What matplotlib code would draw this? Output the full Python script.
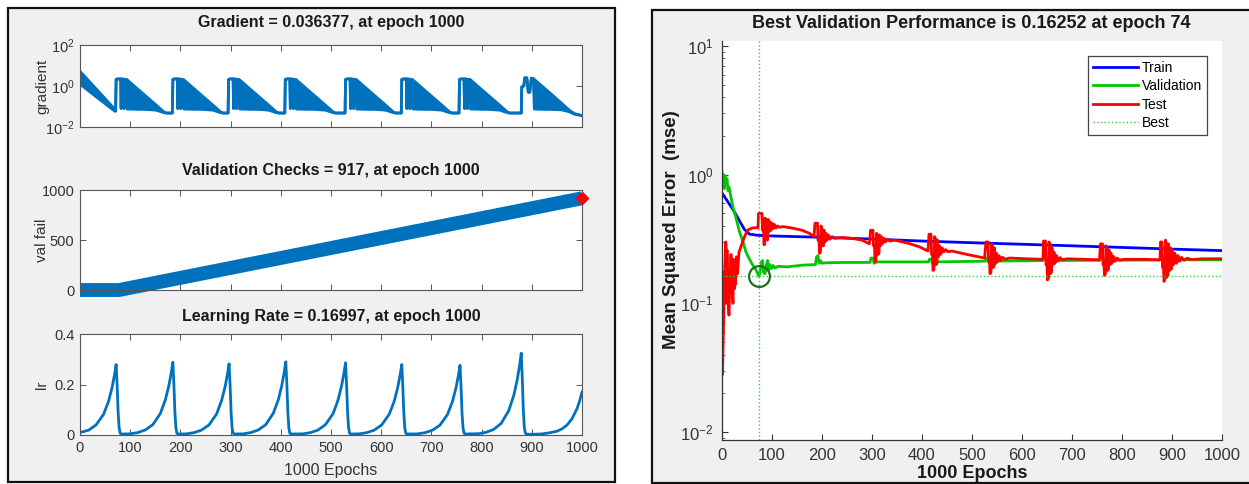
import matplotlib
matplotlib.use('Agg')
import matplotlib.pyplot as plt
from matplotlib.patches import Rectangle
import numpy as np

plt.rcParams['font.family'] = ['Liberation Sans', 'DejaVu Sans']
plt.rcParams['mathtext.fontset'] = 'custom'
plt.rcParams['mathtext.rm'] = 'Liberation Sans'
plt.rcParams['mathtext.it'] = 'Liberation Sans:italic'
plt.rcParams['mathtext.bf'] = 'Liberation Sans:bold'

# ---------------- data: left panel ----------------
epoch_ticks = [0, 100, 200, 300, 400, 500, 600, 700, 800, 900, 1000]

# gradient: where top == bottom it is a single line, otherwise a dense oscillation band
grad_epoch = [0, 15, 30, 45, 60, 70, 71,
              72, 75, 81, 82, 83, 87, 88, 89, 92, 94, 112, 132, 152, 167, 172, 184,
              185, 188, 194, 195, 196, 200, 201, 202, 205, 207, 225, 245, 265, 280, 285, 295,
              296, 299, 305, 306, 307, 311, 312, 313, 316, 318, 336, 356, 376, 391, 396, 408,
              409, 412, 418, 419, 420, 424, 425, 426, 429, 431, 449, 469, 489, 504, 509, 528,
              529, 532, 538, 539, 540, 544, 545, 546, 549, 551, 569, 589, 609, 624, 629, 640,
              641, 644, 650, 651, 652, 656, 657, 658, 661, 663, 681, 701, 721, 736, 741, 755,
              756, 759, 765, 766, 767, 771, 772, 773, 776, 778, 796, 816, 836, 851, 856, 879,
              880, 884, 886, 890, 893, 896, 899, 903, 905, 920, 940, 960, 975, 985, 1000]
grad_top = [5.2, 2.08, 0.82, 0.33, 0.13, 0.07, 0.06,
            2.1, 2.2, 2.2, 0.08, 2.2, 2.15, 0.08, 2.1, 2.1, 2.0, 0.82, 0.31, 0.116, 0.055, 0.048, 0.048,
            2.1, 2.2, 2.2, 0.08, 2.2, 2.15, 0.08, 2.1, 2.1, 2.0, 0.82, 0.31, 0.116, 0.055, 0.048, 0.048,
            2.1, 2.2, 2.2, 0.08, 2.2, 2.15, 0.08, 2.1, 2.1, 2.0, 0.82, 0.31, 0.116, 0.055, 0.048, 0.048,
            2.1, 2.2, 2.2, 0.08, 2.2, 2.15, 0.08, 2.1, 2.1, 2.0, 0.82, 0.31, 0.116, 0.055, 0.048, 0.048,
            2.1, 2.2, 2.2, 0.08, 2.2, 2.15, 0.08, 2.1, 2.1, 2.0, 0.82, 0.31, 0.116, 0.055, 0.048, 0.048,
            2.1, 2.2, 2.2, 0.08, 2.2, 2.15, 0.08, 2.1, 2.1, 2.0, 0.82, 0.31, 0.116, 0.055, 0.048, 0.048,
            2.1, 2.2, 2.2, 0.08, 2.2, 2.15, 0.08, 2.1, 2.1, 2.0, 0.82, 0.31, 0.116, 0.055, 0.048, 0.048,
            0.9, 1.0, 2.5, 2.5, 0.5, 0.5, 2.4, 2.3, 2.1, 1.0, 0.38, 0.14, 0.065, 0.045, 0.036]
grad_bot = [1.23, 0.64, 0.33, 0.17, 0.088, 0.058, 0.06,
            2.1, 2.2, 2.2, 0.08, 2.2, 2.15, 0.08, 2.1, 2.1, 0.075, 0.073, 0.072, 0.066, 0.05, 0.048, 0.048,
            2.1, 2.2, 2.2, 0.08, 2.2, 2.15, 0.08, 2.1, 2.1, 0.075, 0.073, 0.072, 0.066, 0.05, 0.048, 0.048,
            2.1, 2.2, 2.2, 0.08, 2.2, 2.15, 0.08, 2.1, 2.1, 0.075, 0.073, 0.072, 0.066, 0.05, 0.048, 0.048,
            2.1, 2.2, 2.2, 0.08, 2.2, 2.15, 0.08, 2.1, 2.1, 0.075, 0.073, 0.072, 0.066, 0.05, 0.048, 0.048,
            2.1, 2.2, 2.2, 0.08, 2.2, 2.15, 0.08, 2.1, 2.1, 0.075, 0.073, 0.072, 0.066, 0.05, 0.048, 0.048,
            2.1, 2.2, 2.2, 0.08, 2.2, 2.15, 0.08, 2.1, 2.1, 0.075, 0.073, 0.072, 0.066, 0.05, 0.048, 0.048,
            2.1, 2.2, 2.2, 0.08, 2.2, 2.15, 0.08, 2.1, 2.1, 0.075, 0.073, 0.072, 0.066, 0.05, 0.048, 0.048,
            0.9, 1.0, 2.5, 2.5, 0.5, 0.5, 2.4, 2.3, 0.075, 0.073, 0.072, 0.068, 0.055, 0.042, 0.036]

valfail_epoch = [0, 78, 1000]
valfail_value = [0, 0, 917]
valfail_last = 917

lr_epoch = [0, 17, 32, 47, 57, 64, 69, 72, 74, 76, 78, 80, 83,
            100, 115, 130, 145, 160, 170, 177, 182, 185, 187, 189, 191, 193, 196,
            212, 227, 242, 257, 272, 282, 289, 294, 297, 299, 301, 303, 305, 308,
            325, 340, 355, 370, 385, 395, 402, 407, 410, 412, 414, 416, 418, 421,
            444, 459, 474, 489, 504, 514, 521, 526, 529, 531, 533, 535, 537, 540,
            556, 571, 586, 601, 616, 626, 633, 638, 641, 643, 645, 647, 649, 652,
            672, 687, 702, 717, 732, 742, 749, 754, 757, 759, 761, 763, 765, 768,
            794, 809, 824, 839, 854, 864, 871, 876, 879, 881, 883, 885, 887, 890,
            905, 920, 935, 950, 960, 970, 980, 990, 995, 1000]
lr_value = [0.010, 0.019, 0.040, 0.082, 0.134, 0.189, 0.241, 0.279, 0.195, 0.089, 0.028, 0.007, 0.004,
            0.0046, 0.0095, 0.0197, 0.041, 0.085, 0.139, 0.195, 0.249, 0.288, 0.202, 0.092, 0.029, 0.007, 0.004,
            0.0045, 0.0093, 0.0193, 0.040, 0.083, 0.136, 0.191, 0.244, 0.282, 0.197, 0.090, 0.028, 0.007, 0.004,
            0.0046, 0.0095, 0.0198, 0.041, 0.086, 0.139, 0.196, 0.251, 0.290, 0.203, 0.093, 0.029, 0.007, 0.004,
            0.0045, 0.0094, 0.0195, 0.041, 0.084, 0.138, 0.194, 0.247, 0.286, 0.200, 0.092, 0.029, 0.007, 0.004,
            0.0044, 0.0092, 0.019, 0.040, 0.082, 0.134, 0.189, 0.241, 0.279, 0.195, 0.089, 0.028, 0.007, 0.004,
            0.0044, 0.0091, 0.0189, 0.039, 0.081, 0.133, 0.187, 0.238, 0.276, 0.193, 0.088, 0.028, 0.007, 0.004,
            0.0052, 0.0107, 0.022, 0.046, 0.096, 0.156, 0.219, 0.280, 0.324, 0.227, 0.104, 0.032, 0.008, 0.003,
            0.003, 0.0043, 0.0087, 0.0148, 0.024, 0.039, 0.064, 0.104, 0.133, 0.170]

# ---------------- data: right panel ----------------
train_epoch = [0, 10, 20, 28, 36, 45, 55, 71, 100, 200, 300, 400, 500, 600, 700, 800, 900, 1000]
train_mse = [0.72, 0.63, 0.55, 0.49, 0.43, 0.375, 0.345, 0.338, 0.334, 0.326, 0.316,
             0.305, 0.296, 0.288, 0.28, 0.272, 0.264, 0.257]

val_epoch = [0, 2, 3, 5, 7, 8, 10, 12, 14, 21, 28, 35, 42, 48, 55, 61, 68, 74,
             76, 79, 81, 83, 86, 89, 91, 93, 96, 99, 102, 106, 112, 130, 160, 185,
             187, 189, 192, 194, 197, 200, 210, 250, 296, 298, 302, 304, 310, 350, 413,
             415, 419, 421, 430, 500, 527, 529, 533, 535, 545, 600, 642, 644, 648, 650, 660,
             720, 756, 758, 762, 764, 775, 840, 876, 878, 882, 885, 895, 950, 1000]
val_mse = [1.06, 0.8, 1.0, 0.78, 0.98, 0.85, 0.93, 0.75, 0.8, 0.58, 0.46, 0.36, 0.3, 0.25, 0.22,
           0.2, 0.182, 0.1625,
           0.175, 0.21, 0.215, 0.175, 0.17, 0.2, 0.215, 0.18, 0.2, 0.186, 0.197, 0.188, 0.194,
           0.192, 0.198, 0.2,
           0.2, 0.23, 0.235, 0.205, 0.215, 0.205, 0.207, 0.208, 0.208, 0.225, 0.225,
           0.205, 0.21, 0.21, 0.21, 0.22, 0.22, 0.205, 0.21, 0.212, 0.213, 0.225, 0.225, 0.208,
           0.213, 0.214, 0.215, 0.228, 0.228, 0.21, 0.215, 0.216, 0.216, 0.228, 0.228, 0.212,
           0.216, 0.217, 0.217, 0.235, 0.232, 0.21, 0.218, 0.218, 0.218]

test_epoch = [0, 1, 4, 7, 8, 9, 10, 12, 14, 16, 18, 20, 22, 23, 25, 26, 27, 29, 31, 34, 40, 45,
              51, 60, 70, 72,
              73, 80, 81, 83, 84, 85, 86, 88, 89, 91, 92, 94, 96, 98, 100, 102, 105, 108, 111, 115,
              122, 140, 160, 175, 184,
              186, 191, 192, 194, 195, 197, 198, 200, 201, 203, 204, 206, 208, 210, 213, 216, 220,
              225, 240, 260, 280, 295,
              297, 302, 303, 305, 306, 308, 309, 311, 312, 314, 315, 317, 319, 321, 324, 327, 331,
              336, 345, 370, 395, 412,
              414, 418, 419, 421, 422, 424, 425, 427, 428, 430, 431, 433, 435, 437, 440, 443, 447,
              452, 460, 490, 525,
              528, 532, 533, 535, 536, 538, 539, 541, 542, 544, 545, 547, 549, 551, 554, 557, 561,
              566, 575, 610, 642,
              643, 647, 648, 650, 651, 653, 654, 656, 657, 659, 660, 662, 664, 666, 669, 672, 676,
              681, 690, 720, 755,
              757, 761, 762, 764, 765, 767, 768, 770, 771, 773, 774, 776, 778, 780, 783, 786, 790,
              795, 805, 840, 876,
              877, 880, 881, 883, 884, 886, 887, 889, 890, 892, 893, 895, 897, 899, 901, 903, 906,
              909, 912, 915, 919, 924, 930, 940, 960, 1000]
test_mse = [0.177, 0.028, 0.1, 0.3, 0.3, 0.1, 0.26, 0.11, 0.081, 0.16, 0.24, 0.14, 0.1, 0.22,
            0.13, 0.21, 0.14, 0.23, 0.17, 0.25, 0.29, 0.33, 0.37, 0.385, 0.388, 0.385,
            0.5, 0.5, 0.37, 0.37, 0.285, 0.29, 0.46, 0.44, 0.32, 0.31, 0.45, 0.36, 0.43, 0.37,
            0.42, 0.38, 0.41, 0.385, 0.4, 0.39, 0.395, 0.385, 0.37, 0.35, 0.33,
            0.42, 0.42, 0.31, 0.31, 0.245, 0.25, 0.4, 0.38, 0.28, 0.28, 0.37, 0.3, 0.35, 0.31,
            0.34, 0.315, 0.33, 0.32, 0.325, 0.32, 0.31, 0.29,
            0.37, 0.37, 0.28, 0.28, 0.21, 0.215, 0.35, 0.34, 0.24, 0.245, 0.34, 0.28, 0.33, 0.29,
            0.32, 0.3, 0.315, 0.305, 0.31, 0.295, 0.275, 0.255,
            0.345, 0.345, 0.24, 0.24, 0.18, 0.185, 0.33, 0.32, 0.2, 0.205, 0.31, 0.23, 0.28, 0.24,
            0.27, 0.25, 0.262, 0.252, 0.255, 0.24, 0.225,
            0.3, 0.3, 0.21, 0.21, 0.17, 0.175, 0.29, 0.28, 0.19, 0.195, 0.27, 0.205, 0.245, 0.21,
            0.235, 0.215, 0.228, 0.22, 0.225, 0.222, 0.22,
            0.305, 0.305, 0.2, 0.2, 0.152, 0.158, 0.3, 0.28, 0.17, 0.175, 0.27, 0.2, 0.25, 0.205,
            0.235, 0.213, 0.227, 0.218, 0.222, 0.22, 0.218,
            0.29, 0.29, 0.2, 0.2, 0.165, 0.17, 0.28, 0.27, 0.18, 0.185, 0.26, 0.2, 0.245, 0.205,
            0.232, 0.212, 0.225, 0.217, 0.22, 0.22, 0.218,
            0.3, 0.3, 0.19, 0.19, 0.148, 0.155, 0.31, 0.29, 0.16, 0.165, 0.29, 0.18, 0.27, 0.185,
            0.26, 0.2, 0.245, 0.205, 0.235, 0.212, 0.228, 0.216, 0.224, 0.219, 0.222, 0.222]

best_epoch = 74
best_perf = 0.16252

# ---------------- layout ----------------
W, H = 1249, 484
fig = plt.figure(figsize=(W / 100, H / 100), dpi=100)
fig.patch.set_facecolor('white')


def rect(l, t, r, b):
    return [l / W, 1 - b / H, (r - l) / W, (b - t) / H]


fig.add_artist(Rectangle((8 / W, 1 - 482 / H), 607 / W, 474 / H, transform=fig.transFigure,
                         facecolor='#f0f0f0', edgecolor='#111111', lw=1.6, zorder=0))
fig.add_artist(Rectangle((652 / W, 1 - 483 / H), 610 / W, 473 / H, transform=fig.transFigure,
                         facecolor='#f0f0f0', edgecolor='#111111', lw=1.6, zorder=0))

MBLUE = '#0072BD'
TICKC = '#333333'
TITLEC = '#1a1a1a'


def style_left(ax, show_x):
    ax.set_facecolor('white')
    for s in ax.spines.values():
        s.set_color('#555555')
        s.set_linewidth(0.8)
    ax.set_xlim(0, 1000)
    ax.set_xticks(epoch_ticks)
    ax.tick_params(which='major', direction='in', length=4, width=0.7, top=True, right=True,
                   colors='#555555', labelcolor=TICKC, labelsize=10.5, labelbottom=show_x, pad=4)
    ax.tick_params(which='minor', direction='in', length=2, width=0.5, top=False, right=True,
                   colors='#777777')


# gradient
ax1 = fig.add_axes(rect(80, 45, 582, 127))
ax1.set_yscale('log')
ax1.fill_between(grad_epoch, grad_bot, grad_top, color=MBLUE, lw=0)
ax1.plot(grad_epoch, grad_top, color=MBLUE, lw=2)
ax1.plot(grad_epoch, grad_bot, color=MBLUE, lw=2)
ax1.set_ylim(1e-2, 1e2)
ax1.set_yticks([1e-2, 1e0, 1e2])
ax1.set_yticklabels([r'$\mathregular{10^{-2}}$', r'$\mathregular{10^{0}}$', r'$\mathregular{10^{2}}$'])
style_left(ax1, False)
ax1.xaxis.set_minor_locator(matplotlib.ticker.NullLocator())

# validation checks
ax2 = fig.add_axes(rect(80, 190, 582, 290))
ax2.plot(valfail_epoch, valfail_value, color=MBLUE, lw=10, solid_capstyle='butt', clip_on=False)
ax2.plot([valfail_epoch[-1]], [valfail_last], marker='D', ms=6, color='#ff0000', ls='none',
         clip_on=False, zorder=5)
ax2.set_ylim(0, 1000)
ax2.set_yticks([0, 500, 1000])
style_left(ax2, False)

# learning rate
ax3 = fig.add_axes(rect(80, 334, 582, 435))
ax3.plot(lr_epoch, lr_value, color=MBLUE, lw=2)
ax3.set_ylim(0, 0.4)
ax3.set_yticks([0, 0.2, 0.4])
ax3.set_yticklabels(['0', '0.2', '0.4'])
style_left(ax3, True)

fig.text(331 / W, 1 - 22 / H, 'Gradient = 0.036377, at epoch 1000', ha='center', va='center',
         fontsize=11.5, fontweight='bold', color=TITLEC)
fig.text(331 / W, 1 - 171 / H, 'Validation Checks = 917, at epoch 1000', ha='center', va='center',
         fontsize=11.5, fontweight='bold', color=TITLEC)
fig.text(331 / W, 1 - 317 / H, 'Learning Rate = 0.16997, at epoch 1000', ha='center', va='center',
         fontsize=11.5, fontweight='bold', color=TITLEC)
fig.text(42 / W, 1 - 86 / H, 'gradient', rotation=90, ha='center', va='center', fontsize=11, color=TICKC)
fig.text(42 / W, 1 - 240 / H, 'val fail', rotation=90, ha='center', va='center', fontsize=11, color=TICKC)
fig.text(42 / W, 1 - 385 / H, 'lr', rotation=90, ha='center', va='center', fontsize=11, color=TICKC)
fig.text(331 / W, 1 - 471 / H, '1000 Epochs', ha='center', va='center', fontsize=11.5, color=TICKC)

# ---------------- right panel ----------------
axR = fig.add_axes(rect(722, 41, 1222, 440))
axR.set_facecolor('white')
axR.set_yscale('log')
axR.plot(train_epoch, train_mse, color='#0000ff', lw=2, label='Train')
axR.plot(val_epoch, val_mse, color='#00c800', lw=2, label='Validation')
axR.plot(test_epoch, test_mse, color='#ff0000', lw=2, label='Test')
axR.axvline(best_epoch, color='#33cc33', ls=':', lw=1, label='Best')
axR.axhline(best_perf, color='#33cc33', ls=':', lw=1)
axR.plot([best_epoch], [best_perf], marker='o', ms=15, mfc='none', mec='#1f6f1f', mew=1.6, ls='none')
axR.set_xlim(0, 1000)
axR.set_ylim(10 ** -2.062, 10 ** 1.039)
axR.set_xticks(epoch_ticks)
axR.set_yticks([1e-2, 1e-1, 1e0, 1e1])
axR.set_yticklabels([r'$\mathregular{10^{-2}}$', r'$\mathregular{10^{-1}}$',
                     r'$\mathregular{10^{0}}$', r'$\mathregular{10^{1}}$'])
for side in ['top', 'right']:
    axR.spines[side].set_visible(False)
for side in ['left', 'bottom']:
    axR.spines[side].set_color('#333333')
    axR.spines[side].set_linewidth(0.9)
axR.tick_params(which='major', direction='in', length=4, width=0.8, colors='#333333',
                labelcolor=TICKC, labelsize=12, pad=6)
axR.tick_params(which='minor', direction='in', length=2, width=0.6, colors='#555555')
axR.xaxis.set_minor_locator(matplotlib.ticker.NullLocator())

leg = axR.legend(loc='upper right', bbox_to_anchor=(0.97, 0.963), borderaxespad=0, fontsize=10,
                 handlelength=3.3, handletextpad=0.25, labelspacing=0.32, borderpad=0.35,
                 fancybox=False, framealpha=1, edgecolor='#444444')
leg.get_frame().set_linewidth(0.9)

fig.text(971 / W, 1 - 24 / H, 'Best Validation Performance is 0.16252 at epoch 74', ha='center',
         va='center', fontsize=13, fontweight='bold', color=TITLEC)
fig.text(672 / W, 1 - 230 / H, 'Mean Squared Error  (mse)', rotation=90, ha='center', va='center',
         fontsize=13.5, fontweight='bold', color=TITLEC)
fig.text(972 / W, 1 - 473 / H, '1000 Epochs', ha='center', va='center', fontsize=13,
         fontweight='bold', color=TITLEC)

fig.savefig('out.png', dpi=100, facecolor='white')
